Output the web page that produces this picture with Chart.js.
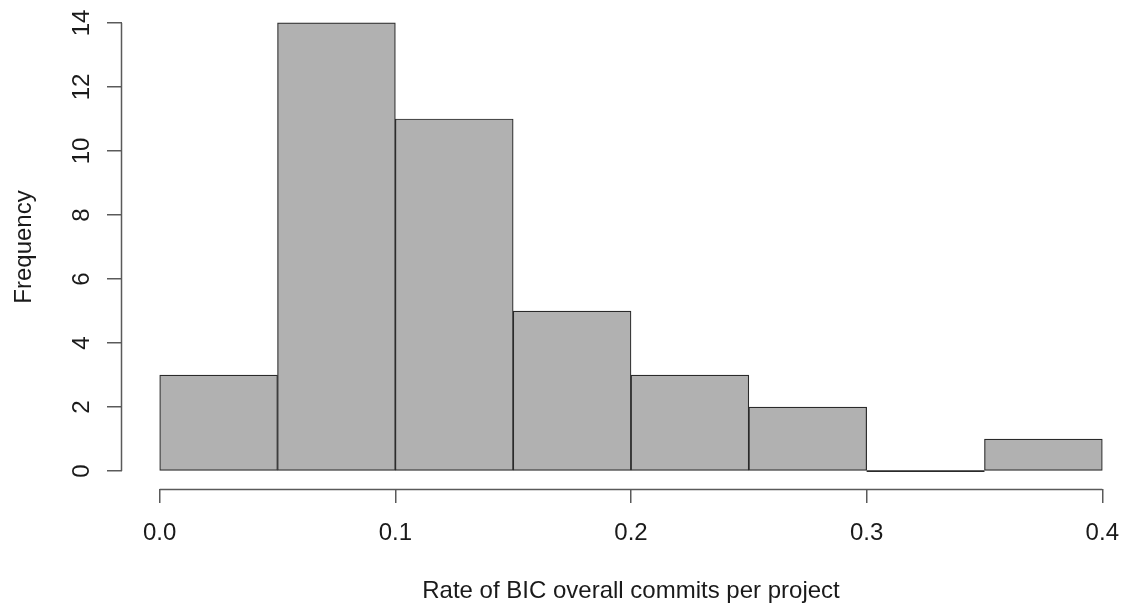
<html>
<head>
  <meta charset="utf-8">
  <title>Histogram</title>
  <script src="https://cdn.jsdelivr.net/npm/chart.js@4.4.1/dist/chart.umd.min.js"></script>
  <style>
    body { margin: 0; overflow: hidden; background: #fff; }
    #wrap { width: 1140px; height: 608px; position: relative; }
  </style>
</head>
<body>
  <div id="wrap"><canvas id="histChart"></canvas></div>

<script>
  // histogram bins and counts
  var binEdges = [0, 0.05, 0.1, 0.15, 0.2, 0.25, 0.3, 0.35, 0.4];
  var counts = [3, 14, 11, 5, 3, 2, 0, 1];
  var xTicks = [0, 0.1, 0.2, 0.3, 0.4];
  var yTicks = [0, 2, 4, 6, 8, 10, 12, 14];

  var barData = counts.map(function (c, i) {
    return { x: (binEdges[i] + binEdges[i + 1]) / 2, y: c };
  });

  // empty bins still get a flat line at zero, like R does
  var zeroData = [];
  counts.forEach(function (c, i) {
    if (c === 0) {
      zeroData.push({ x: binEdges[i], y: 0 });
      zeroData.push({ x: binEdges[i + 1], y: 0 });
      zeroData.push({ x: binEdges[i + 1], y: null });
    }
  });

  var axisColor = '#5a5a5a';
  var textColor = '#1a1a1a';
  var fontFam = '"Liberation Sans", Arial, Helvetica, sans-serif';

  // R style axis lines that only span first to last tick
  var rAxes = {
    id: 'rAxes',
    afterDraw: function (chart) {
      var c = chart.ctx, xs = chart.scales.x, ys = chart.scales.y;
      c.save();
      c.strokeStyle = axisColor;
      c.lineWidth = 1.5;
      c.beginPath();
      var yb = chart.chartArea.bottom + 0.5;
      c.moveTo(xs.getPixelForValue(xTicks[0]), yb);
      c.lineTo(xs.getPixelForValue(xTicks[xTicks.length - 1]), yb);
      var xl = chart.chartArea.left - 0.5;
      c.moveTo(xl, ys.getPixelForValue(yTicks[0]));
      c.lineTo(xl, ys.getPixelForValue(yTicks[yTicks.length - 1]));
      c.stroke();
      c.restore();
    }
  };

  var ctx = document.getElementById('histChart').getContext('2d');
  var chart = new Chart(ctx, {
    type: 'bar',
    data: {
      datasets: [
        {
          label: 'Frequency',
          data: barData,
          backgroundColor: '#b1b1b1',
          borderColor: '#2a2a2a',
          borderWidth: 1.2,
          borderSkipped: false,
          barPercentage: 1,
          categoryPercentage: 1
        },
        {
          type: 'line',
          data: zeroData,
          borderColor: '#2a2a2a',
          borderWidth: 1.8,
          pointRadius: 0,
          spanGaps: false
        }
      ]
    },
    options: {
      responsive: true,
      maintainAspectRatio: false,
      animation: false,
      layout: { padding: { top: 5, left: 0, right: 0, bottom: 0 } },
      plugins: { legend: { display: false }, tooltip: { enabled: false } },
      scales: {
        x: {
          type: 'linear',
          offset: false,
          min: -0.016,
          max: 0.416,
          afterBuildTicks: function (s) { s.ticks = xTicks.map(function (v) { return { value: v }; }); },
          afterFit: function (s) { s.height = 119; s.paddingLeft = 0; s.paddingRight = 0; },
          border: { display: false },
          grid: { offset: false, drawOnChartArea: false, drawTicks: true, tickLength: 14, color: axisColor, lineWidth: 1.5 },
          ticks: {
            padding: 16,
            color: textColor,
            font: { family: fontFam, size: 24 },
            maxRotation: 0,
            callback: function (v) { return v.toFixed(1); }
          },
          title: {
            display: true,
            text: 'Rate of BIC overall commits per project',
            color: textColor,
            font: { family: fontFam, size: 24 },
            padding: { top: 0, bottom: 2 }
          }
        },
        y: {
          min: -0.56,
          max: 14.56,
          afterBuildTicks: function (s) { s.ticks = yTicks.map(function (v) { return { value: v }; }); },
          afterFit: function (s) { s.width = 122; s.paddingTop = 0; s.paddingBottom = 0; },
          border: { display: false },
          grid: { drawOnChartArea: false, drawTicks: true, tickLength: 15, color: axisColor, lineWidth: 1.5 },
          ticks: {
            padding: 11,
            color: textColor,
            font: { family: fontFam, size: 24 },
            minRotation: 90,
            maxRotation: 90,
            crossAlign: 'center'
          },
          title: {
            display: true,
            text: 'Frequency',
            color: textColor,
            font: { family: fontFam, size: 24 },
            padding: { top: 10, bottom: 0 }
          }
        }
      }
    },
    plugins: [rAxes]
  });
</script>
</body>
</html>
